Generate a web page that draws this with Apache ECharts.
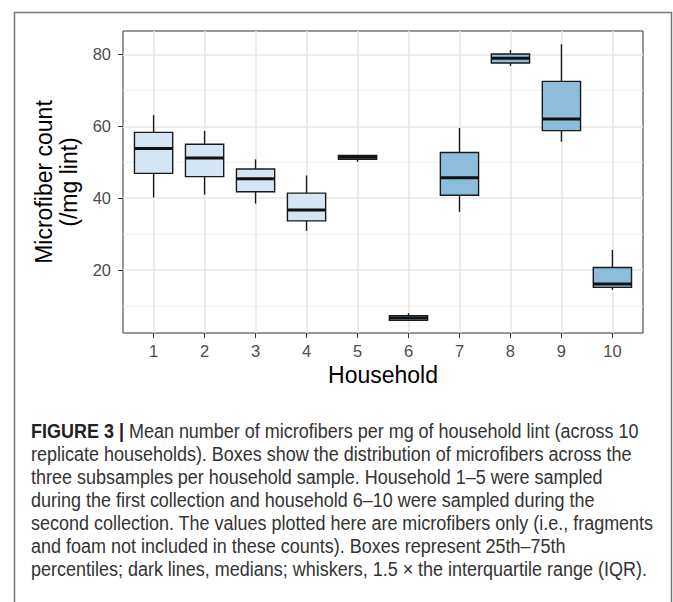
<!DOCTYPE html>
<html>
<head>
<meta charset="utf-8">
<script src="https://cdn.jsdelivr.net/npm/echarts@6/dist/echarts.min.js"></script>
<style>
html,body{margin:0;padding:0;background:#fff;}
#chart{width:673px;height:602px;}
</style>
</head>
<body>
<div id="chart"></div>
<script>
// ---- data ----
var households = [1, 2, 3, 4, 5, 6, 7, 8, 9, 10];
var collection = [1, 1, 1, 1, 1, 2, 2, 2, 2, 2];
var whiskerLow  = [40.2, 41.0, 38.5, 30.9, 50.1, 6.0, 36.2, 76.8, 55.7, 14.5];
var quartile1   = [46.9, 46.0, 41.8, 33.7, 50.8, 6.0, 40.8, 77.6, 58.8, 15.2];
var medians     = [53.8, 51.2, 45.4, 36.7, 51.4, 6.7, 45.7, 78.9, 62.0, 16.1];
var quartile3   = [58.3, 55.0, 48.1, 41.4, 51.9, 7.3, 52.7, 80.1, 72.5, 20.7];
var whiskerHigh = [63.1, 58.7, 50.8, 46.3, 51.9, 8.0, 59.5, 81.2, 82.8, 25.6];
var yTicks = [20, 40, 60, 80];
var yMinorTicks = [10, 30, 50, 70];
var xLabels = ['1', '2', '3', '4', '5', '6', '7', '8', '9', '10'];
var yTitle = 'Microfiber count\n(/mg lint)';
var xTitle = 'Household';
var captionLines = [
  '{b|FIGURE 3 |} Mean number of microfibers per mg of household lint (across 10',
  'replicate households). Boxes show the distribution of microfibers across the',
  'three subsamples per household sample. Household 1\u20135 were sampled',
  'during the first collection and household 6\u201310 were sampled during the',
  'second collection. The values plotted here are microfibers only (i.e., fragments',
  'and foam not included in these counts). Boxes represent 25th\u201375th',
  'percentiles; dark lines, medians; whiskers, 1.5 \u00d7 the interquartile range (IQR).'
];

var fillColors = { 1: '#d5e5f4', 2: '#8ebddb' };
var BOX_WIDTH = 0.75;

var seriesData = households.map(function (h, i) {
  return [h, whiskerLow[i], quartile1[i], medians[i], quartile3[i], whiskerHigh[i], collection[i]];
});

var chart = echarts.init(document.getElementById('chart'), null, { renderer: 'svg' });

var capFont = '"Liberation Sans", Arial, sans-serif';
var captionGraphics = captionLines.map(function (line, i) {
  return {
    type: 'text',
    x: 31,
    y: 431 + 23 * i,
    scaleX: 0.922,
    silent: true,
    style: {
      text: line,
      fontFamily: capFont,
      fontSize: 19.5,
      fill: '#333',
      verticalAlign: 'middle',
      rich: {
        b: { fontWeight: 'bold', fontSize: 19.5, fill: '#222', fontFamily: capFont }
      }
    }
  };
});

var option = {
  backgroundColor: '#fff',
  animation: false,
  textStyle: { fontFamily: '"Liberation Sans", Arial, sans-serif' },
  grid: {
    left: 123, top: 31, width: 520, height: 302,
    show: true, borderColor: '#333', borderWidth: 1, backgroundColor: '#fff'
  },
  graphic: [
    {
      type: 'rect',
      shape: { x: 14.5, y: 12.5, width: 657, height: 600 },
      style: { fill: 'none', stroke: '#777', lineWidth: 1.5 },
      silent: true, z: -10
    }
  ].concat(captionGraphics),
  xAxis: {
    type: 'value',
    min: 0.4, max: 10.6,
    axisLine: { show: false },
    axisTick: { show: true, length: 5, customValues: households, lineStyle: { color: '#333', width: 1 } },
    axisLabel: {
      customValues: households,
      formatter: function (v) { return xLabels[households.indexOf(v)]; },
      color: '#4d4d4d', fontSize: 16.5, margin: 9
    },
    splitLine: { show: true, lineStyle: { color: '#e8e8e8', width: 1.6 } },
    name: xTitle,
    nameLocation: 'middle',
    nameGap: 29,
    nameTextStyle: { color: '#000', fontSize: 23 }
  },
  yAxis: [
    {
      type: 'value',
      min: 2.5, max: 86.5,
      axisLine: { show: false },
      axisTick: { show: true, length: 5, customValues: yTicks, lineStyle: { color: '#333', width: 1 } },
      axisLabel: { customValues: yTicks, color: '#4d4d4d', fontSize: 16.5, margin: 12 },
      splitLine: { show: true, lineStyle: { color: '#e8e8e8', width: 1.6 } },
      name: yTitle,
      nameLocation: 'middle',
      nameRotate: 90,
      nameGap: 33,
      nameTextStyle: { color: '#000', fontSize: 23, lineHeight: 25 }
    },
    {
      type: 'value',
      min: 2.5, max: 86.5,
      position: 'left',
      axisLine: { show: false },
      axisTick: { show: false, customValues: yMinorTicks },
      axisLabel: { show: false, customValues: yMinorTicks },
      splitLine: { show: true, lineStyle: { color: '#efefef', width: 0.9 } }
    }
  ],
  series: [
    {
      type: 'custom',
      xAxisIndex: 0,
      yAxisIndex: 0,
      data: seriesData,
      encode: { x: 0, y: [1, 2, 3, 4, 5] },
      z: 5,
      renderItem: function (params, api) {
        var x = api.value(0);
        var pLo = api.coord([x, api.value(1)]);
        var pQ1 = api.coord([x, api.value(2)]);
        var pMed = api.coord([x, api.value(3)]);
        var pQ3 = api.coord([x, api.value(4)]);
        var pHi = api.coord([x, api.value(5)]);
        var grp = api.value(6);
        var half = api.size([BOX_WIDTH, 0])[0] / 2;
        var cx = pMed[0];
        var stroke = '#1a1a1a';
        return {
          type: 'group',
          children: [
            { type: 'line', shape: { x1: cx, y1: pQ3[1], x2: cx, y2: pHi[1] }, style: { stroke: stroke, lineWidth: 1.4 } },
            { type: 'line', shape: { x1: cx, y1: pQ1[1], x2: cx, y2: pLo[1] }, style: { stroke: stroke, lineWidth: 1.4 } },
            { type: 'rect', shape: { x: cx - half, y: pQ3[1], width: half * 2, height: pQ1[1] - pQ3[1] },
              style: { fill: fillColors[grp], stroke: stroke, lineWidth: 1.4 } },
            { type: 'line', shape: { x1: cx - half, y1: pMed[1], x2: cx + half, y2: pMed[1] }, style: { stroke: '#111', lineWidth: 3 } }
          ]
        };
      }
    }
  ]
};
chart.setOption(option);
</script>
</body>
</html>
